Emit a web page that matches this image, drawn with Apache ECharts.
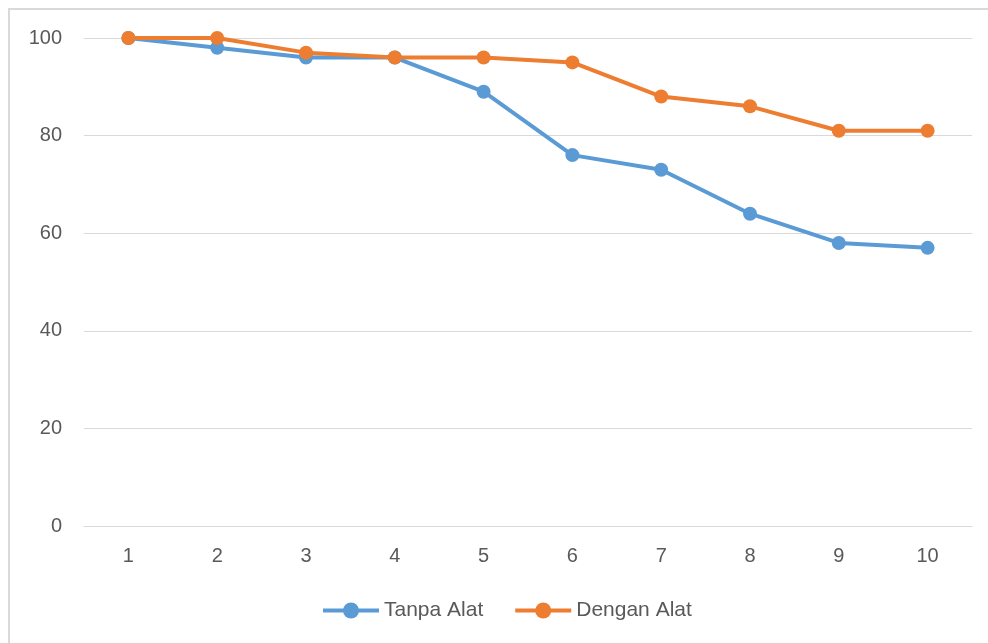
<!DOCTYPE html>
<html>
<head>
<meta charset="utf-8">
<script src="https://cdn.jsdelivr.net/npm/echarts@6/dist/echarts.min.js"></script>
<style>
  html, body { margin: 0; padding: 0; background: #fff; }
  #frame { position: absolute; left: 8px; top: 8px; width: 1000px; height: 700px; border: 2px solid #d9d9d9; box-sizing: border-box; }
  #chart { position: absolute; left: 0; top: 0; width: 988px; height: 643px; }
</style>
</head>
<body>
<div id="frame"></div>
<div id="chart"></div>
<script>
const categories = ['1', '2', '3', '4', '5', '6', '7', '8', '9', '10'];
const tanpaAlat = [100, 98, 96, 96, 89, 76, 73, 64, 58, 57];
const denganAlat = [100, 100, 97, 96, 96, 95, 88, 86, 81, 81];

const textColor = '#595959';
const fontFamily = 'Liberation Sans, Arial, sans-serif';

const chart = echarts.init(document.getElementById('chart'), null, { renderer: 'canvas' });

function lineSeries (name, data, color) {
  return {
    name: name,
    type: 'line',
    data: data,
    symbol: 'circle',
    symbolSize: 14,
    lineStyle: { width: 4, color: color },
    itemStyle: { color: color },
    emphasis: { disabled: true },
    animation: false
  };
}

chart.setOption({
  backgroundColor: 'transparent',
  grid: {
    left: 84,
    right: 16,
    top: 38,
    bottom: 117
  },
  legend: {
    bottom: 17,
    left: 316,
    itemWidth: 56,
    itemHeight: 20,
    itemGap: 30,
    lineStyle: { width: 4 },
    textStyle: { color: textColor, fontSize: 21, fontFamily: fontFamily },
    data: ['Tanpa Alat', 'Dengan Alat']
  },
  xAxis: {
    type: 'category',
    data: categories,
    boundaryGap: true,
    axisLine: { show: true, lineStyle: { color: '#d9d9d9', width: 1 } },
    axisTick: { show: false },
    axisLabel: { color: textColor, fontSize: 20, fontFamily: fontFamily, margin: 20 },
    splitLine: { show: false }
  },
  yAxis: {
    type: 'value',
    min: 0,
    max: 100,
    interval: 20,
    axisLine: { show: false },
    axisTick: { show: false },
    axisLabel: { color: textColor, fontSize: 20, fontFamily: fontFamily, margin: 22 },
    splitLine: { lineStyle: { color: '#d9d9d9', width: 1 } }
  },
  series: [
    lineSeries('Tanpa Alat', tanpaAlat, '#5b9bd5'),
    lineSeries('Dengan Alat', denganAlat, '#ed7d31')
  ]
});
</script>
</body>
</html>
